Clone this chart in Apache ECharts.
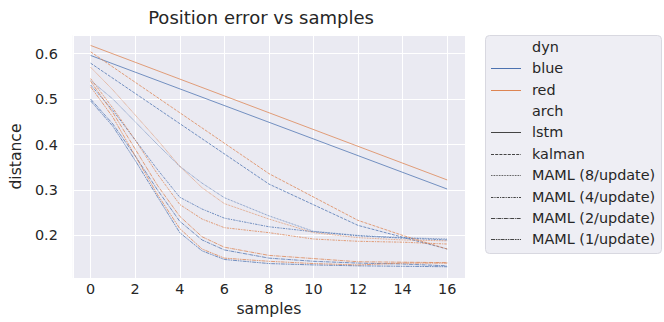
<!DOCTYPE html>
<html>
<head>
<meta charset="utf-8">
<script src="https://cdn.jsdelivr.net/npm/echarts@6/dist/echarts.min.js"></script>
<style>
  html, body { margin: 0; padding: 0; background: #fff; }
  #main { width: 664px; height: 322px; }
</style>
</head>
<body>
<div id="main"></div>
<script>
// x values (samples)
const samples = [0, 1, 2, 3, 4, 5, 6, 8, 10, 12, 14, 16];

// blue dyn, one array per arch (null = no point)
const blueLstm   = [0.596, null, null, null, null, null, null, null, null, null, null, 0.302];
const blueKalman = [0.579, null, null, null, 0.446, null, null, 0.313, null, 0.222, null, 0.170];
const blueMaml8  = [0.541, 0.500, 0.450, 0.400, 0.352, 0.315, 0.283, 0.243, 0.209, 0.200, 0.195, 0.192];
const blueMaml4  = [0.531, 0.475, 0.410, 0.345, 0.284, 0.258, 0.238, 0.219, 0.208, 0.199, 0.194, 0.190];
const blueMaml2  = [0.500, 0.445, 0.375, 0.300, 0.231, 0.190, 0.168, 0.150, 0.143, 0.139, 0.137, 0.133];
const blueMaml1  = [0.496, 0.440, 0.365, 0.285, 0.206, 0.166, 0.147, 0.138, 0.135, 0.133, 0.132, 0.131];

// red dyn
const redLstm    = [0.618, null, null, null, null, null, null, null, null, null, null, 0.322];
const redKalman  = [0.604, null, null, null, 0.470, null, null, 0.336, null, 0.233, 0.200, 0.170];
const redMaml8   = [0.570, 0.520, 0.465, 0.410, 0.352, 0.305, 0.270, 0.236, 0.206, 0.195, 0.190, 0.188];
const redMaml4   = [0.545, 0.480, 0.410, 0.335, 0.268, 0.236, 0.217, 0.206, 0.192, 0.187, 0.185, 0.181];
const redMaml2   = [0.539, 0.470, 0.390, 0.310, 0.242, 0.197, 0.174, 0.156, 0.149, 0.142, 0.141, 0.140];
const redMaml1   = [0.527, 0.460, 0.375, 0.290, 0.215, 0.170, 0.150, 0.143, 0.138, 0.135, 0.139, 0.139];

const dynNames = ['blue', 'red'];
const archNames = ['lstm', 'kalman', 'MAML (8/update)', 'MAML (4/update)', 'MAML (2/update)', 'MAML (1/update)'];
const values = {
    blue: [blueLstm, blueKalman, blueMaml8, blueMaml4, blueMaml2, blueMaml1],
    red: [redLstm, redKalman, redMaml8, redMaml4, redMaml2, redMaml1]
};

// styles
const dynColors = { blue: '#4c72b0', red: '#dd8452' };
const archDash = [null, [3, 1.2], [0.8, 0.8], [2.4, 1, 1.2, 1], [4, 0.8, 0.8, 0.8], [4, 0.8, 1.6, 0.8, 1.6, 0.8]];
const textColor = '#262626';

var myChart = echarts.init(document.getElementById('main'), null, { renderer: 'svg' });

var series = [];
dynNames.forEach(function (dyn) {
    archNames.forEach(function (arch, a) {
        series.push({
            name: dyn + ' ' + arch,
            type: 'line',
            data: samples.map(function (x, i) { return [x, values[dyn][a][i]]; })
                         .filter(function (p) { return p[1] !== null; }),
            showSymbol: false,
            symbol: 'none',
            silent: true,
            lineStyle: {
                width: 0.9,
                color: dynColors[dyn],
                opacity: 0.85,
                type: archDash[a] || 'solid'
            }
        });
    });
});

// legend drawn by hand (seaborn style with section headers)
var legendRows = ['dyn'].concat(dynNames).concat(['arch']).concat(archNames);
var legendGraphics = [{
    type: 'rect',
    shape: { x: 485.5, y: 35.5, width: 176, height: 218, r: 4 },
    style: { fill: '#eeeef4', stroke: '#d8d8e0', lineWidth: 1 },
    z: 10
}];
legendRows.forEach(function (label, i) {
    var y = 46.7 + i * 21.4;
    legendGraphics.push({
        type: 'text',
        x: 532, y: y,
        style: { text: label, fill: textColor, font: '14.4px "DejaVu Sans"', verticalAlign: 'middle' },
        z: 11
    });
    var color = null, dash = null;
    if (dynNames.indexOf(label) >= 0) { color = dynColors[label]; }
    var a = archNames.indexOf(label);
    if (a >= 0) { color = '#444444'; dash = archDash[a]; }
    if (color) {
        var ly = Math.round(y) + 0.5;
        legendGraphics.push({
            type: 'line',
            shape: { x1: 491, y1: ly, x2: 521, y2: ly },
            style: { stroke: color, lineWidth: 1, lineDash: dash },
            z: 11
        });
    }
});

var option = {
    animation: false,
    backgroundColor: '#ffffff',
    textStyle: { fontFamily: 'DejaVu Sans' },
    title: {
        text: 'Position error vs samples',
        left: 256,
        top: 3,
        textAlign: 'center',
        textStyle: { fontSize: 18, fontWeight: 'normal', color: textColor, fontFamily: 'DejaVu Sans' }
    },
    grid: {
        left: 47, top: 35, width: 418, height: 249,
        show: true, backgroundColor: '#eaeaf2', borderWidth: 0
    },
    xAxis: {
        type: 'value',
        min: -0.8, max: 16.8,
        splitNumber: 9,
        name: 'samples',
        nameLocation: 'middle',
        nameGap: 21,
        nameTextStyle: { fontSize: 15.6, color: textColor },
        axisLine: { show: false },
        axisTick: { show: false },
        axisLabel: { fontSize: 14.4, color: textColor, margin: 4, showMinLabel: false, showMaxLabel: false },
        splitLine: { lineStyle: { color: '#ffffff', width: 1 } }
    },
    yAxis: {
        type: 'value',
        min: 0.106, max: 0.641,
        splitNumber: 5,
        name: 'distance',
        nameLocation: 'middle',
        nameGap: 29,
        nameTextStyle: { fontSize: 15.6, color: textColor },
        axisLine: { show: false },
        axisTick: { show: false },
        axisLabel: { fontSize: 14.4, color: textColor, margin: 15, showMinLabel: false, showMaxLabel: false },
        splitLine: { lineStyle: { color: '#ffffff', width: 1 } }
    },
    graphic: legendGraphics,
    series: series
};

myChart.setOption(option);
</script>
</body>
</html>
